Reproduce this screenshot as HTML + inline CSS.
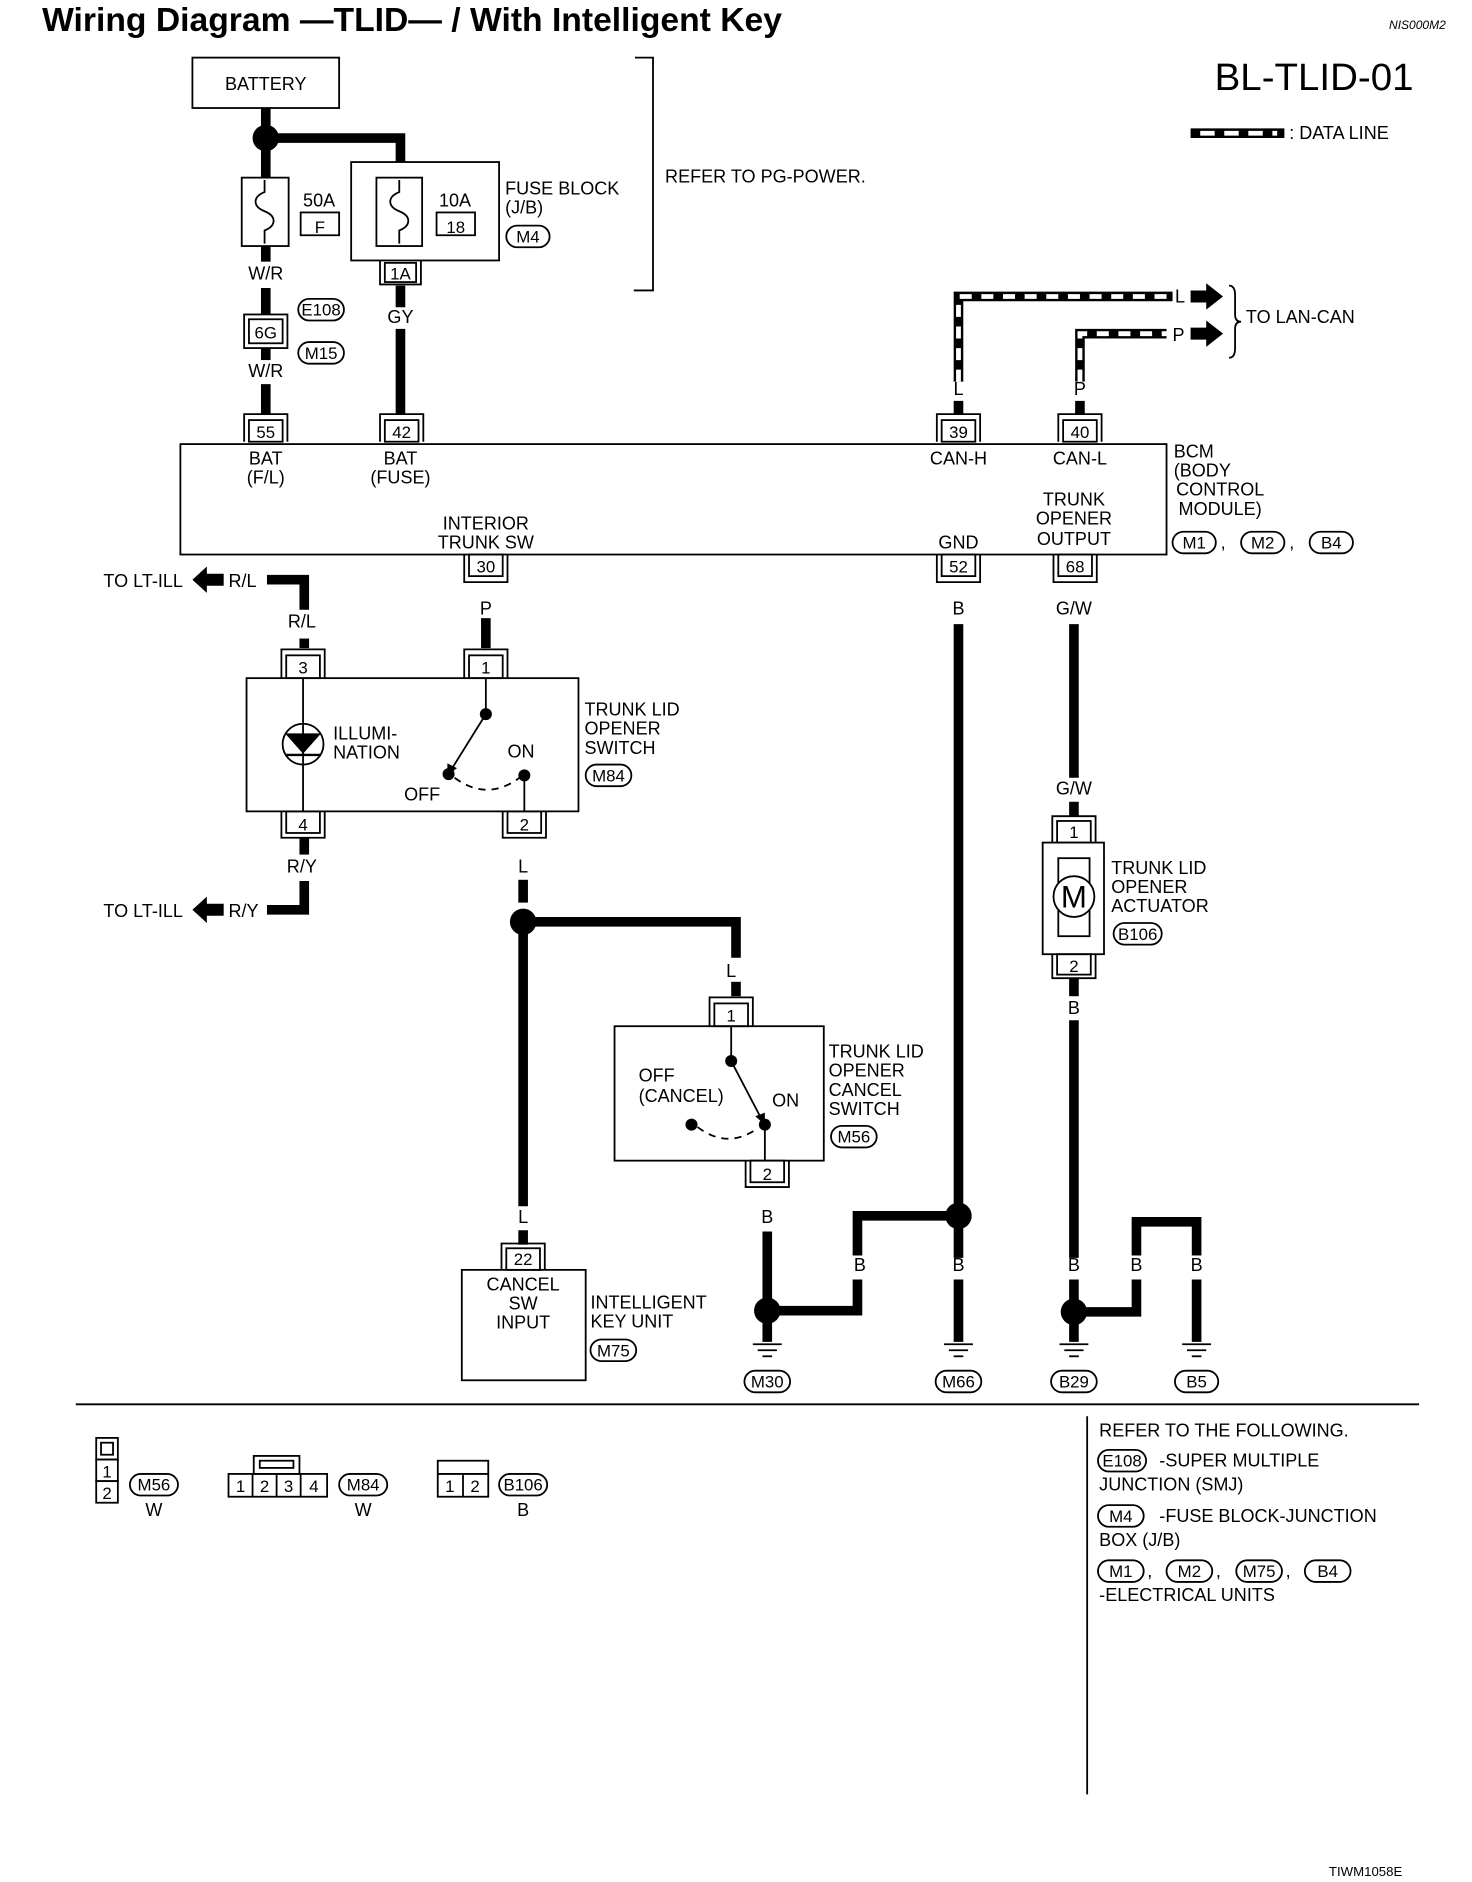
<!DOCTYPE html>
<html><head><meta charset="utf-8">
<style>
html,body{margin:0;padding:0;background:#fff;}
svg{display:block;}
text{font-family:"Liberation Sans",sans-serif;fill:#000;}
</style></head>
<body>
<svg width="1472" height="1882" viewBox="0 0 1224 1568" preserveAspectRatio="none" xmlns="http://www.w3.org/2000/svg">
<g font-size="15">
<!-- Title -->
<text x="35" y="26" font-size="28" font-weight="bold">Wiring Diagram —TLID— / With Intelligent Key</text>
<text x="1155" y="24" font-size="10" font-style="italic">NIS000M2</text>
<text x="1010" y="75" font-size="32">BL-TLID-01</text>
<line x1="990" y1="111" x2="1068" y2="111" stroke="#000" stroke-width="8"/>
<line x1="998" y1="111" x2="1062" y2="111" stroke="#fff" stroke-width="4" stroke-dasharray="12,8"/>
<text x="1072" y="116">: DATA LINE</text>

<g fill="none" stroke="#000" stroke-width="1.5">
<!-- battery -->
<rect x="160" y="48" width="122" height="42"/>
<polyline points="528,48 543,48 543,242 527,242"/>
<!-- fuses -->
<rect x="201" y="148" width="39" height="57"/>
<path d="M220,150 v10 c-10,4 -10,12 0,16 c10,4 10,12 0,16 v11"/>
<rect x="250" y="177" width="32" height="19"/>
<rect x="292" y="135" width="123" height="82"/>
<rect x="313" y="148" width="38" height="57"/>
<path d="M332,150 v10 c-10,4 -10,12 0,16 c10,4 10,12 0,16 v11"/>
<rect x="363" y="177" width="32" height="19"/>
<!-- BCM -->
<rect x="150" y="370" width="820" height="92"/>
<!-- switch box -->
<rect x="205" y="565" width="276" height="111"/>
<line x1="252" y1="565" x2="252" y2="676"/>
<circle cx="252" cy="620" r="17"/>
<line x1="404" y1="565" x2="404" y2="595"/>
<line x1="436" y1="646" x2="436" y2="676"/>
<path d="M378,648 Q405,668 432,648" stroke-dasharray="6,5"/>
<!-- cancel switch -->
<rect x="511" y="855" width="174" height="112"/>
<line x1="608" y1="855" x2="608" y2="884"/>
<line x1="636" y1="937" x2="636" y2="967"/>
<path d="M580,939 Q605,958 630,940" stroke-dasharray="6,5"/>
<!-- intelligent key unit -->
<rect x="384" y="1058" width="103" height="92"/>
<!-- actuator -->
<rect x="867" y="702" width="51" height="93"/>
<rect x="880" y="715" width="26" height="65"/>
<circle cx="893" cy="747" r="17" fill="#fff"/>
<!-- separators -->
<line x1="63" y1="1170" x2="1180" y2="1170"/>
<line x1="904" y1="1180" x2="904" y2="1495"/>
<!-- brace -->
<path d="M1022,238 q5,0 5,8 v16 q0,6 5,6 q-5,0 -5,6 v16 q0,8 -5,8"/>
</g>
<!-- switch arrows -->
<line x1="404" y1="595" x2="376" y2="640" stroke="#000" stroke-width="1.5"/>
<polygon points="372,646 372,636 380,640" fill="#000"/>
<line x1="608" y1="884" x2="632" y2="930" stroke="#000" stroke-width="1.5"/>
<polygon points="636,937 628,930 636,927" fill="#000"/>
<g fill="#000">
<circle cx="404" cy="595" r="5"/><circle cx="373" cy="645" r="5"/><circle cx="436" cy="646" r="5"/>
<circle cx="608" cy="884" r="5"/><circle cx="636" cy="937" r="5"/><circle cx="575" cy="937" r="5"/>
<polygon points="237,611 267,611 252,628"/>
</g>
<line x1="237" y1="629" x2="267" y2="629" stroke="#000" stroke-width="2"/>
<text x="893" y="756" font-size="26" text-anchor="middle">M</text>

<!-- thick wires -->
<g fill="none" stroke="#000" stroke-width="8">
<polyline points="221,90 221,148"/>
<polyline points="221,115 333,115 333,135"/>
<line x1="221" y1="205" x2="221" y2="218"/><line x1="221" y1="240" x2="221" y2="262"/><line x1="221" y1="290" x2="221" y2="300"/><line x1="221" y1="320" x2="221" y2="345"/>
<line x1="333" y1="238" x2="333" y2="256"/><line x1="333" y1="274" x2="333" y2="345"/>
<polyline points="222,483 253,483 253,508"/>
<polyline points="253,532 253,540"/>
<polyline points="253,698 253,712"/><polyline points="253,734 253,758 222,758"/>
<line x1="404" y1="515" x2="404" y2="540"/>
<line x1="435" y1="733" x2="435" y2="752"/><line x1="435" y1="760" x2="435" y2="1005"/>
<line x1="435" y1="1025" x2="435" y2="1037"/>
<polyline points="435,768 612,768 612,798"/><line x1="612" y1="818" x2="612" y2="830"/>
<line x1="638" y1="1026" x2="638" y2="1118"/>
<polyline points="638,1092 713,1092 713,1066"/><polyline points="713,1046 713,1013 797,1013"/>
<line x1="797" y1="520" x2="797" y2="1048"/><line x1="797" y1="1066" x2="797" y2="1118"/>
<line x1="893" y1="520" x2="893" y2="648"/><line x1="893" y1="668" x2="893" y2="680"/>
<line x1="893" y1="815" x2="893" y2="830"/><line x1="893" y1="850" x2="893" y2="1048"/><line x1="893" y1="1066" x2="893" y2="1118"/>
<polyline points="893,1093 945,1093 945,1066"/><polyline points="945,1046 945,1018 995,1018 995,1046"/>
<line x1="995" y1="1066" x2="995" y2="1118"/>
</g>
<!-- data lines -->
<g fill="none">
<polyline points="797,318 797,247 975,247" stroke="#000" stroke-width="8"/>
<polyline points="797,318 797,247 975,247" stroke="#fff" stroke-width="4" stroke-dasharray="10,8"/>
<polyline points="898,318 898,278 970,278" stroke="#000" stroke-width="8"/>
<polyline points="898,318 898,278 970,278" stroke="#fff" stroke-width="4" stroke-dasharray="10,8"/>
<line x1="797" y1="334" x2="797" y2="345" stroke="#000" stroke-width="8"/>
<line x1="898" y1="334" x2="898" y2="345" stroke="#000" stroke-width="8"/>
</g>
<g fill="#000">
<polygon points="990,242 1003,242 1003,236 1017,247 1003,258 1003,252 990,252"/>
<polygon points="990,273 1003,273 1003,267 1017,278 1003,289 1003,283 990,283"/>
<polygon points="160,483 172,472 172,478 186,478 186,488 172,488 172,494"/>
<polygon points="160,758 172,747 172,753 186,753 186,763 172,763 172,769"/>
<circle cx="221" cy="115" r="11"/><circle cx="435" cy="768" r="11"/>
<circle cx="797" cy="1013" r="11"/><circle cx="638" cy="1092" r="11"/><circle cx="893" cy="1093" r="11"/>
</g>
<!-- grounds -->
<g stroke="#000" stroke-width="1.5">
<line x1="626" y1="1120" x2="650" y2="1120"/><line x1="630" y1="1125" x2="646" y2="1125"/><line x1="634" y1="1130" x2="642" y2="1130"/>
<line x1="785" y1="1120" x2="809" y2="1120"/><line x1="789" y1="1125" x2="805" y2="1125"/><line x1="793" y1="1130" x2="801" y2="1130"/>
<line x1="881" y1="1120" x2="905" y2="1120"/><line x1="885" y1="1125" x2="901" y2="1125"/><line x1="889" y1="1130" x2="897" y2="1130"/>
<line x1="983" y1="1120" x2="1007" y2="1120"/><line x1="987" y1="1125" x2="1003" y2="1125"/><line x1="991" y1="1130" x2="999" y2="1130"/>
</g>

<!-- connectors -->
<g fill="none" stroke="#000" stroke-width="1.5">
<path d="M316,217 v20 h34 v-20"/><rect x="320" y="219" width="26" height="16"/>
<rect x="203" y="262" width="36" height="28"/><rect x="207" y="266" width="28" height="20"/>
<path d="M203,368 v-23 h36 v23"/><rect x="207" y="350" width="28" height="18"/>
<path d="M316,368 v-23 h36 v23"/><rect x="320" y="350" width="28" height="18"/>
<path d="M779,368 v-23 h36 v23"/><rect x="783" y="350" width="28" height="18"/>
<path d="M880,368 v-23 h36 v23"/><rect x="884" y="350" width="28" height="18"/>
<path d="M386,462 v23 h36 v-23"/><rect x="390" y="462" width="28" height="18"/>
<path d="M779,462 v23 h36 v-23"/><rect x="783" y="462" width="28" height="18"/>
<path d="M876,462 v23 h36 v-23"/><rect x="880" y="462" width="28" height="18"/>
<path d="M234,565 v-24 h36 v24"/><rect x="238" y="546" width="28" height="19"/>
<path d="M386,565 v-24 h36 v24"/><rect x="390" y="546" width="28" height="19"/>
<path d="M234,676 v22 h36 v-22"/><rect x="238" y="676" width="28" height="18"/>
<path d="M418,676 v22 h36 v-22"/><rect x="422" y="676" width="28" height="18"/>
<path d="M590,855 v-24 h36 v24"/><rect x="594" y="836" width="28" height="19"/>
<path d="M620,967 v22 h36 v-22"/><rect x="624" y="967" width="28" height="18"/>
<path d="M417,1058 v-22 h36 v22"/><rect x="421" y="1040" width="28" height="18"/>
<path d="M875,702 v-22 h36 v22"/><rect x="879" y="684" width="28" height="18"/>
<path d="M875,795 v20 h36 v-20"/><rect x="879" y="795" width="28" height="17"/>
</g>
<g text-anchor="middle" font-size="14">
<text x="333" y="233">1A</text><text x="221" y="282">6G</text>
<text x="221" y="365">55</text><text x="334" y="365">42</text><text x="797" y="365">39</text><text x="898" y="365">40</text>
<text x="404" y="477">30</text><text x="797" y="477">52</text><text x="894" y="477">68</text>
<text x="252" y="561">3</text><text x="404" y="561">1</text><text x="252" y="692">4</text><text x="436" y="692">2</text>
<text x="608" y="851">1</text><text x="638" y="983">2</text><text x="435" y="1054">22</text>
<text x="893" y="698">1</text><text x="893" y="810">2</text>
<text x="266" y="194">F</text><text x="379" y="194">18</text>
</g>

<!-- ovals -->
<g fill="none" stroke="#000" stroke-width="1.5">
<rect x="421" y="188" width="36" height="18" rx="9"/>
<rect x="248" y="249" width="38" height="18" rx="9"/>
<rect x="248" y="285" width="38" height="18" rx="9"/>
<rect x="975" y="443" width="36" height="18" rx="9"/>
<rect x="1032" y="443" width="36" height="18" rx="9"/>
<rect x="1089" y="443" width="36" height="18" rx="9"/>
<rect x="487" y="637" width="38" height="18" rx="9"/>
<rect x="691" y="938" width="38" height="18" rx="9"/>
<rect x="491" y="1116" width="38" height="18" rx="9"/>
<rect x="926" y="769" width="40" height="18" rx="9"/>
<rect x="619" y="1142" width="38" height="18" rx="9"/>
<rect x="778" y="1142" width="38" height="18" rx="9"/>
<rect x="874" y="1142" width="38" height="18" rx="9"/>
<rect x="977" y="1142" width="36" height="18" rx="9"/>
<rect x="108" y="1228" width="40" height="18" rx="9"/>
<rect x="282" y="1228" width="40" height="18" rx="9"/>
<rect x="415" y="1228" width="40" height="18" rx="9"/>
<rect x="913" y="1208" width="40" height="18" rx="9"/>
<rect x="913" y="1254" width="38" height="18" rx="9"/>
<rect x="913" y="1300" width="38" height="18" rx="9"/>
<rect x="970" y="1300" width="38" height="18" rx="9"/>
<rect x="1028" y="1300" width="38" height="18" rx="9"/>
<rect x="1085" y="1300" width="38" height="18" rx="9"/>
</g>
<g text-anchor="middle" font-size="14">
<text x="439" y="202">M4</text><text x="267" y="263">E108</text><text x="267" y="299">M15</text>
<text x="993" y="457">M1</text><text x="1050" y="457">M2</text><text x="1107" y="457">B4</text>
<text x="506" y="651">M84</text><text x="710" y="952">M56</text><text x="510" y="1130">M75</text><text x="946" y="783">B106</text>
<text x="638" y="1156">M30</text><text x="797" y="1156">M66</text><text x="893" y="1156">B29</text><text x="995" y="1156">B5</text>
<text x="128" y="1242">M56</text><text x="302" y="1242">M84</text><text x="435" y="1242">B106</text>
<text x="933" y="1222">E108</text><text x="932" y="1268">M4</text><text x="932" y="1314">M1</text><text x="989" y="1314">M2</text><text x="1047" y="1314">M75</text><text x="1104" y="1314">B4</text>
</g>

<!-- labels -->
<g text-anchor="middle">
<text x="221" y="75">BATTERY</text>
<text x="221" y="233">W/R</text><text x="221" y="314">W/R</text><text x="333" y="269">GY</text>
<text x="221" y="387">BAT</text><text x="221" y="403">(F/L)</text>
<text x="333" y="387">BAT</text><text x="333" y="403">(FUSE)</text>
<text x="797" y="387">CAN-H</text><text x="898" y="387">CAN-L</text>
<text x="797" y="329">L</text><text x="898" y="329">P</text>
<text x="404" y="441">INTERIOR</text><text x="404" y="457">TRUNK SW</text>
<text x="797" y="457">GND</text>
<text x="893" y="421">TRUNK</text><text x="893" y="437">OPENER</text><text x="893" y="454">OUTPUT</text>
<text x="404" y="512">P</text><text x="797" y="512">B</text><text x="893" y="512">G/W</text>
<text x="251" y="523">R/L</text><text x="251" y="727">R/Y</text>
<text x="435" y="727">L</text><text x="608" y="814">L</text><text x="893" y="662">G/W</text><text x="893" y="845">B</text>
<text x="638" y="1019">B</text><text x="435" y="1019">L</text>
<text x="715" y="1059">B</text><text x="797" y="1059">B</text><text x="893" y="1059">B</text><text x="945" y="1059">B</text><text x="995" y="1059">B</text>
<text x="435" y="1075">CANCEL</text><text x="435" y="1091">SW</text><text x="435" y="1107">INPUT</text>
<text x="128" y="1263">W</text><text x="302" y="1263">W</text><text x="435" y="1263">B</text>
</g>
<text x="252" y="172">50A</text><text x="365" y="172">10A</text>
<text x="420" y="162">FUSE BLOCK</text><text x="420" y="178">(J/B)</text>
<text x="553" y="152">REFER TO PG-POWER.</text>
<text x="977" y="252">L</text><text x="975" y="284">P</text>
<text x="1036" y="269">TO LAN-CAN</text>
<text x="976" y="381">BCM</text><text x="976" y="397">(BODY</text><text x="978" y="413">CONTROL</text><text x="980" y="429">MODULE)</text>
<text x="86" y="489">TO LT-ILL</text><text x="190" y="489">R/L</text>
<text x="86" y="764">TO LT-ILL</text><text x="190" y="764">R/Y</text>
<text x="277" y="616">ILLUMI-</text><text x="277" y="632">NATION</text>
<text x="422" y="631">ON</text><text x="336" y="667">OFF</text>
<text x="486" y="596">TRUNK LID</text><text x="486" y="612">OPENER</text><text x="486" y="628">SWITCH</text>
<text x="531" y="901">OFF</text><text x="531" y="918">(CANCEL)</text><text x="642" y="922">ON</text>
<text x="689" y="881">TRUNK LID</text><text x="689" y="897">OPENER</text><text x="689" y="913">CANCEL</text><text x="689" y="929">SWITCH</text>
<text x="491" y="1090">INTELLIGENT</text><text x="491" y="1106">KEY UNIT</text>
<text x="924" y="728">TRUNK LID</text><text x="924" y="744">OPENER</text><text x="924" y="760">ACTUATOR</text>

<!-- connector face icons -->
<g fill="none" stroke="#000" stroke-width="1.5">
<rect x="80" y="1198" width="18" height="18"/><rect x="84" y="1202" width="10" height="10"/>
<rect x="80" y="1216" width="18" height="18"/><rect x="80" y="1234" width="18" height="18"/>
<rect x="190" y="1228" width="82" height="19"/>
<line x1="210" y1="1228" x2="210" y2="1247"/><line x1="230" y1="1228" x2="230" y2="1247"/><line x1="250" y1="1228" x2="250" y2="1247"/>
<rect x="211" y="1213" width="38" height="15"/><rect x="216" y="1217" width="28" height="6"/>
<rect x="364" y="1217" width="42" height="30"/><line x1="364" y1="1228" x2="406" y2="1228"/><line x1="385" y1="1228" x2="385" y2="1247"/>
</g>
<g text-anchor="middle" font-size="14">
<text x="89" y="1231">1</text><text x="89" y="1249">2</text>
<text x="200" y="1243">1</text><text x="220" y="1243">2</text><text x="240" y="1243">3</text><text x="261" y="1243">4</text>
<text x="374" y="1243">1</text><text x="395" y="1243">2</text>
</g>
<text x="914" y="1197">REFER TO THE FOLLOWING.</text>
<text x="964" y="1222">-SUPER MULTIPLE</text><text x="914" y="1242">JUNCTION (SMJ)</text>
<text x="964" y="1268">-FUSE BLOCK-JUNCTION</text><text x="914" y="1288">BOX (J/B)</text>
<text x="954" y="1314">,</text><text x="1011" y="1314">,</text><text x="1069" y="1314">,</text>
<text x="914" y="1334">-ELECTRICAL UNITS</text>
<text x="1015" y="457">,</text><text x="1072" y="457">,</text>
<text x="1105" y="1563" font-size="11">TIWM1058E</text>
</g>
</svg>
</body></html>
